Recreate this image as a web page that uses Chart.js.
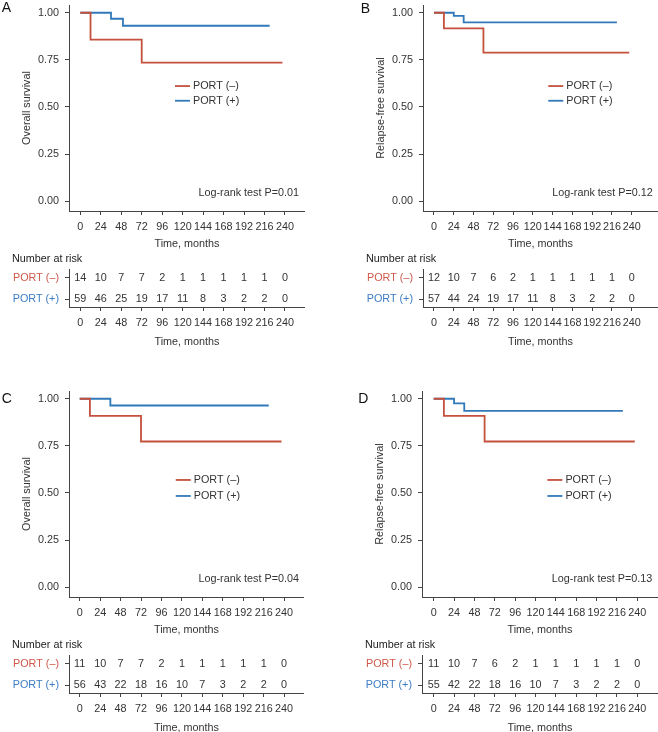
<!DOCTYPE html>
<html>
<head>
<meta charset="utf-8">
<script src="https://cdn.jsdelivr.net/npm/chart.js@4.4.1/dist/chart.umd.min.js"></script>
<style>
body{margin:0;background:#fff;width:658px;height:732px;overflow:hidden;position:relative;}
canvas{position:absolute;}
</style>
</head>
<body>
<canvas id="kmA"></canvas><canvas id="kmB"></canvas><canvas id="kmC"></canvas><canvas id="kmD"></canvas>
<canvas id="riskA"></canvas><canvas id="riskB"></canvas><canvas id="riskC"></canvas><canvas id="riskD"></canvas>
<script>
// tick values
const months = [0, 24, 48, 72, 96, 120, 144, 168, 192, 216, 240];
const survTicks = [0, 0.25, 0.5, 0.75, 1];
const groupLabels = ["PORT (–)", "PORT (+)"];

// A: overall survival
const osA_minusT = [0, 12, 72, 237];
const osA_minusS = [1, 0.857, 0.735, 0.735];
const osA_plusT = [0, 36, 50, 222];
const osA_plusS = [1, 0.968, 0.931, 0.931];
const riskA_minus = [14, 10, 7, 7, 2, 1, 1, 1, 1, 1, 0];
const riskA_plus = [59, 46, 25, 19, 17, 11, 8, 3, 2, 2, 0];

// B: relapse-free survival
const rfsB_minusT = [0, 12, 60, 237];
const rfsB_minusS = [1, 0.917, 0.788, 0.788];
const rfsB_plusT = [0, 24, 36, 222];
const rfsB_plusS = [1, 0.983, 0.949, 0.949];
const riskB_minus = [12, 10, 7, 6, 2, 1, 1, 1, 1, 1, 0];
const riskB_plus = [57, 44, 24, 19, 17, 11, 8, 3, 2, 2, 0];

// C: overall survival
const osC_minusT = [0, 12, 72, 237];
const osC_minusS = [1, 0.909, 0.773, 0.773];
const osC_plusT = [0, 36, 222];
const osC_plusS = [1, 0.964, 0.964];
const riskC_minus = [11, 10, 7, 7, 2, 1, 1, 1, 1, 1, 0];
const riskC_plus = [56, 43, 22, 18, 16, 10, 7, 3, 2, 2, 0];

// D: relapse-free survival
const rfsD_minusT = [0, 12, 60, 237];
const rfsD_minusS = [1, 0.909, 0.773, 0.773];
const rfsD_plusT = [0, 24, 36, 223];
const rfsD_plusS = [1, 0.975, 0.936, 0.936];
const riskD_minus = [11, 10, 7, 6, 2, 1, 1, 1, 1, 1, 0];
const riskD_plus = [55, 42, 22, 18, 16, 10, 7, 3, 2, 2, 0];

const RED = "#c4503d";
const BLUE = "#3179b9";
const rowColors = ["#d0584a", "#3b7cc4"];
const AXIS = "#444";
const TXT = "#333";
const FONT = {family: "'Liberation Sans', Arial, sans-serif", size: 10.8, weight: "normal"};

Chart.defaults.font.family = FONT.family;
Chart.defaults.font.size = FONT.size;

const panels = [
  {id: "A", left: 0, top: 0, width: 305, xMin: -13.25, xMax: 263.45, yTitle: "Overall survival",
   minus: [osA_minusT, osA_minusS], plus: [osA_plusT, osA_plusS], risk: [riskA_minus, riskA_plus],
   pText: "Log-rank test P=0.01", pX: 256.4, pY: 0.043, legX: 111, legY: [0.611, 0.533],
   letterDx: -67.3, letterDy: 3.3},
  {id: "B", left: 354, top: 0, width: 304, xMin: -13.35, xMax: 271.9, yTitle: "Relapse-free survival",
   minus: [rfsB_minusT, rfsB_minusS], plus: [rfsB_plusT, rfsB_plusS], risk: [riskB_minus, riskB_plus],
   pText: "Log-rank test P=0.12", pX: 265.5, pY: 0.042, legX: 138.7, legY: [0.611, 0.533],
   letterDx: -62.3, letterDy: 3.7},
  {id: "C", left: 0, top: 386, width: 304, xMin: -12.56, xMax: 263.4, yTitle: "Overall survival",
   minus: [osC_minusT, osC_minusS], plus: [osC_plusT, osC_plusS], risk: [riskC_minus, riskC_plus],
   pText: "Log-rank test P=0.04", pX: 257.5, pY: 0.045, legX: 112.8, legY: [0.569, 0.484],
   letterDx: -67.3, letterDy: 8.3},
  {id: "D", left: 353, top: 386, width: 305, xMin: -13.8, xMax: 264.4, yTitle: "Relapse-free survival",
   minus: [rfsD_minusT, rfsD_minusS], plus: [rfsD_plusT, rfsD_plusS], risk: [riskD_minus, riskD_plus],
   pText: "Log-rank test P=0.13", pX: 257.7, pY: 0.045, legX: 134, legY: [0.569, 0.484],
   letterDx: -63.7, letterDy: 8.5}
];

function toPoints(ts, ss) {
  return ts.map((t, i) => ({x: t, y: ss[i]}));
}

function timeAxis(p, h) {
  return {
    type: "linear", min: p.xMin, max: p.xMax,
    afterBuildTicks: s => { s.ticks = months.map(v => ({value: v})); },
    afterFit: s => { s.height = h; s.paddingLeft = 0; s.paddingRight = 0; },
    grid: {drawOnChartArea: false, tickLength: 4, color: AXIS},
    border: {display: true, color: AXIS, width: 1},
    ticks: {autoSkip: false, maxRotation: 0, padding: 6, color: TXT, font: FONT},
    title: {display: true, text: "Time, months", color: TXT, font: FONT, padding: {top: 0, bottom: 0.5}}
  };
}

const kmDecor = {
  id: "kmDecor",
  afterDatasetsDraw(chart, args, o) {
    const ctx = chart.ctx, a = chart.chartArea;
    const xs = chart.scales.x, ys = chart.scales.y;
    ctx.save();
    // panel letter
    ctx.fillStyle = "#111";
    ctx.font = "14px " + FONT.family;
    ctx.textAlign = "left";
    ctx.textBaseline = "middle";
    ctx.fillText(o.letter, a.left + o.letterDx, a.top + o.letterDy);
    // legend
    ctx.font = FONT.size + "px " + FONT.family;
    chart.data.datasets.forEach((ds, i) => {
      const x = xs.getPixelForValue(o.legX);
      const y = ys.getPixelForValue(o.legY[i]);
      ctx.strokeStyle = ds.borderColor;
      ctx.lineWidth = 1.8;
      ctx.beginPath();
      ctx.moveTo(x, y);
      ctx.lineTo(x + 15, y);
      ctx.stroke();
      ctx.fillStyle = TXT;
      ctx.fillText(ds.label, x + 18, y);
    });
    // log-rank
    ctx.textAlign = "right";
    ctx.fillText(o.pText, xs.getPixelForValue(o.pX), ys.getPixelForValue(o.pY));
    ctx.restore();
  }
};

const riskNumbers = {
  id: "riskNumbers",
  afterDatasetsDraw(chart) {
    const ctx = chart.ctx;
    ctx.save();
    ctx.fillStyle = TXT;
    ctx.font = FONT.size + "px " + FONT.family;
    ctx.textAlign = "center";
    ctx.textBaseline = "middle";
    chart.data.datasets.forEach((ds, di) => {
      chart.getDatasetMeta(di).data.forEach((el, i) => {
        ctx.fillText(String(ds.data[i].n), el.x, el.y);
      });
    });
    ctx.restore();
  }
};

function makeKM(p) {
  const cv = document.getElementById("km" + p.id);
  cv.width = p.width; cv.height = 251;
  cv.style.left = p.left + "px"; cv.style.top = p.top + "px";
  new Chart(cv, {
    type: "line",
    data: {
      datasets: [
        {label: groupLabels[0], data: toPoints(p.minus[0], p.minus[1]), borderColor: RED, borderWidth: 1.8,
         stepped: true, pointRadius: 0, fill: false},
        {label: groupLabels[1], data: toPoints(p.plus[0], p.plus[1]), borderColor: BLUE, borderWidth: 1.8,
         stepped: true, pointRadius: 0, fill: false}
      ]
    },
    options: {
      responsive: false, animation: false,
      layout: {padding: {top: 5, left: 0, right: 0, bottom: 0}},
      plugins: {
        legend: {display: false}, tooltip: {enabled: false},
        kmDecor: {letter: p.id, letterDx: p.letterDx, letterDy: p.letterDy, legX: p.legX, legY: p.legY,
                  pText: p.pText, pX: p.pX, pY: p.pY}
      },
      scales: {
        x: timeAxis(p, 40),
        y: {
          type: "linear", min: -0.052, max: 1.041,
          afterBuildTicks: s => { s.ticks = survTicks.map(v => ({value: v})); },
          afterFit: s => { s.width = 69; s.paddingTop = 0; s.paddingBottom = 0; },
          grid: {drawOnChartArea: false, tickLength: 4, color: AXIS},
          border: {display: true, color: AXIS, width: 1},
          ticks: {padding: 6, color: TXT, font: FONT, callback: v => v.toFixed(2)},
          title: {display: true, text: p.yTitle, color: TXT, font: FONT, padding: {top: 21, bottom: 0}}
        }
      }
    },
    plugins: [kmDecor]
  });
}

function makeRisk(p) {
  const cv = document.getElementById("risk" + p.id);
  cv.width = p.width; cv.height = 99;
  cv.style.left = p.left + "px"; cv.style.top = (p.top + 250) + "px";
  new Chart(cv, {
    type: "scatter",
    data: {
      datasets: p.risk.map((row, r) => ({
        label: groupLabels[r],
        data: months.map((t, i) => ({x: t, y: r, n: row[i]})),
        pointRadius: 0, showLine: false
      }))
    },
    options: {
      responsive: false, animation: false,
      layout: {padding: {top: 0, left: 12, right: 0, bottom: 0}},
      plugins: {
        legend: {display: false}, tooltip: {enabled: false},
        title: {display: true, text: "Number at risk", align: "start", color: "#222", font: FONT,
                padding: {top: 2.5, bottom: 4.5}}
      },
      scales: {
        x: timeAxis(p, 42),
        y: {
          type: "linear", reverse: true, min: -0.38, max: 1.38,
          afterBuildTicks: s => { s.ticks = [0, 1].map(v => ({value: v})); },
          afterFit: s => { s.width = 57; s.paddingTop = 0; s.paddingBottom = 0; },
          grid: {drawOnChartArea: false, tickLength: 4, color: AXIS},
          border: {display: true, color: AXIS, width: 1},
          ticks: {padding: 6, font: FONT, color: c => rowColors[c.index], callback: v => groupLabels[v]}
        }
      }
    },
    plugins: [riskNumbers]
  });
}

panels.forEach(p => { makeKM(p); makeRisk(p); });
</script>
</body>
</html>
